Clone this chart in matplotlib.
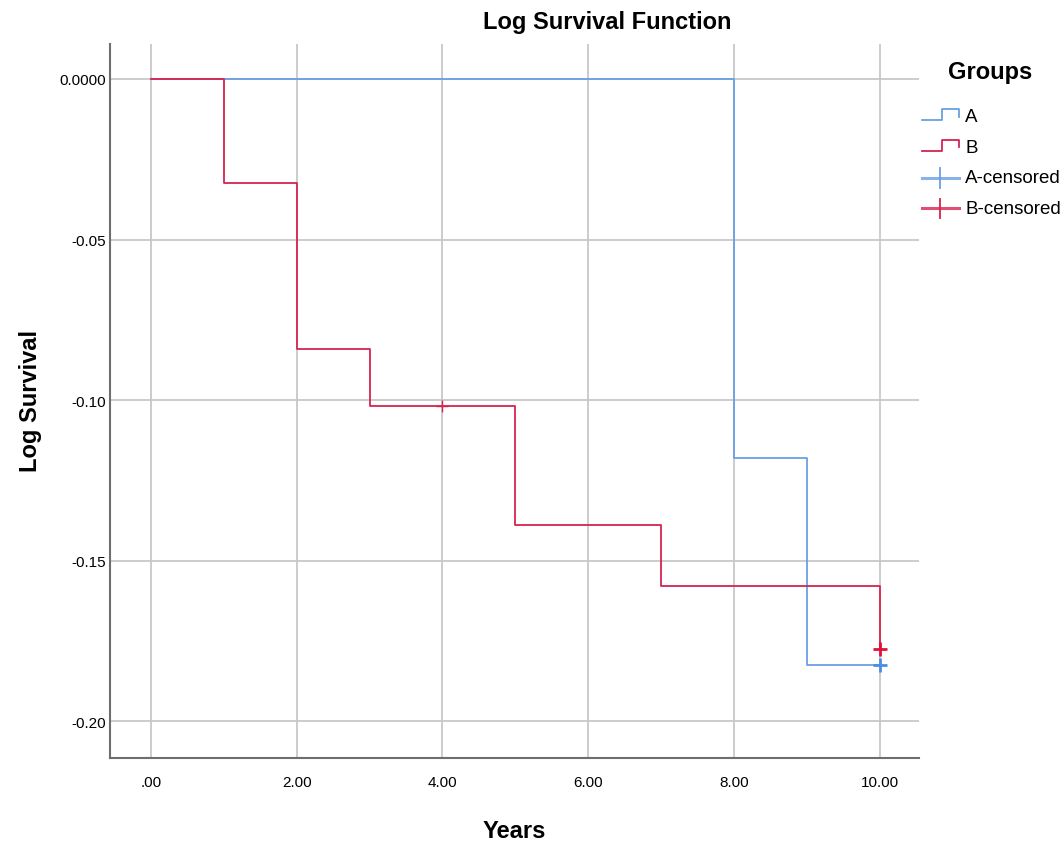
import matplotlib
matplotlib.use("Agg")
import matplotlib.pyplot as plt
from matplotlib.lines import Line2D
from matplotlib.legend_handler import HandlerBase

plt.rcParams['font.family'] = ['Liberation Sans', 'DejaVu Sans']

# Data
a_times = [0, 8, 9, 10]
a_logsurv = [0.0, -0.118, -0.1826, -0.1826]
a_cens_t = [10]
a_cens_y = [-0.1826]

b_times = [0, 1, 2, 3, 5, 7, 10]
b_logsurv = [0.0, -0.0324, -0.0841, -0.1019, -0.1389, -0.158, -0.1776]
b_cens_t = [4, 10]
b_cens_y = [-0.1019, -0.1776]

x_ticks = [0, 2, 4, 6, 8, 10]
x_labels = ['.00', '2.00', '4.00', '6.00', '8.00', '10.00']
y_ticks = [0.0, -0.05, -0.10, -0.15, -0.20]
y_labels = ['0.0000', '-0.05', '-0.10', '-0.15', '-0.20']

blue = '#6a9fe3'
red = '#d6244f'
blue_c = '#4a8ee0'
red_c = '#e0103a'

W, H = 1062, 845
fig = plt.figure(figsize=(W / 100, H / 100), dpi=100)
ax = fig.add_axes([110/W, 1-759/H, (919-110)/W, (759-45)/H])

ax.step(a_times, a_logsurv, where='post', color=blue, lw=1.3, zorder=3)
ax.step(b_times, b_logsurv, where='post', color=red, lw=1.3, zorder=4)
ax.plot(a_cens_t, a_cens_y, ls='none', marker='+', ms=10, mew=2, color=blue_c, zorder=5)
ax.plot(b_cens_t[:1], b_cens_y[:1], ls='none', marker='+', ms=9, mew=1.0, color=red, zorder=5)
ax.plot(b_cens_t[1:], b_cens_y[1:], ls='none', marker='+', ms=10, mew=2, color=red_c, zorder=5)

ax.set_xlim(-0.563, 10.54)
ax.set_ylim(-0.2115, 0.0109)
ax.set_xticks(x_ticks)
ax.set_xticklabels(x_labels)
ax.set_yticks(y_ticks)
ax.set_yticklabels(y_labels)
ax.tick_params(length=0, labelsize=11)
ax.tick_params(axis='x', pad=12)
ax.tick_params(axis='y', pad=3)
ax.grid(True, color='#c8c8c8', lw=1.3)
ax.set_axisbelow(True)
for s in ['top', 'right']:
    ax.spines[s].set_visible(False)
for s in ['left', 'bottom']:
    ax.spines[s].set_color('#6e6e6e')
    ax.spines[s].set_linewidth(1.5)

fig.text(607/W, 1-22/H, 'Log Survival Function', fontsize=17, fontweight='bold',
         ha='center', va='center')
fig.text(514/W, 1-832/H, 'Years', fontsize=17, fontweight='bold',
         ha='center', va='center')
fig.text(31/W, 1-401/H, 'Log Survival', fontsize=17, fontweight='bold',
         ha='center', va='center', rotation=90)
fig.text(990/W, 1-73/H, 'Groups', fontsize=17, fontweight='bold',
         ha='center', va='center')


class StepHandler(HandlerBase):
    def create_artists(self, legend, orig_handle, xdescent, ydescent, width, height, fontsize, trans):
        x0, x1 = -xdescent, -xdescent + width
        ylo, yhi = -ydescent + 0.05 * height, -ydescent + 0.9 * height
        xs = [x0, x0 + 0.55 * width, x0 + 0.55 * width, x1, x1]
        ys = [ylo, ylo, yhi, yhi, ylo + 0.3 * height]
        ln = Line2D(xs, ys, color=orig_handle.get_color(), lw=1.3, transform=trans)
        return [ln]


class CensHandler(HandlerBase):
    def create_artists(self, legend, orig_handle, xdescent, ydescent, width, height, fontsize, trans):
        x0, x1 = -xdescent, -xdescent + width
        ym = -ydescent + 0.35 * height
        h = Line2D([x0, x1], [ym, ym], color=orig_handle.get_color(), lw=2.2, transform=trans, alpha=0.8)
        v = Line2D([x0 + width / 2] * 2, [ym - 0.75 * height, ym + 0.75 * height],
                   color=orig_handle.get_color(), lw=1.3, transform=trans)
        return [h, v]


hA = Line2D([], [], color=blue)
hB = Line2D([], [], color=red)
hAc = Line2D([], [], color=blue)
hBc = Line2D([], [], color=red)

leg = fig.legend([hA, hB, hAc, hBc], ['A', 'B', 'A-censored', 'B-censored'],
                 loc='upper left', bbox_to_anchor=(922/W, 1-109/H),
                 frameon=False, fontsize=13.5,
                 handlelength=1.95, handletextpad=0.35, labelspacing=0.72,
                 borderaxespad=0, borderpad=0,
                 handler_map={hA: StepHandler(), hB: StepHandler(),
                              hAc: CensHandler(), hBc: CensHandler()})

fig.savefig('out.png', dpi=100)
